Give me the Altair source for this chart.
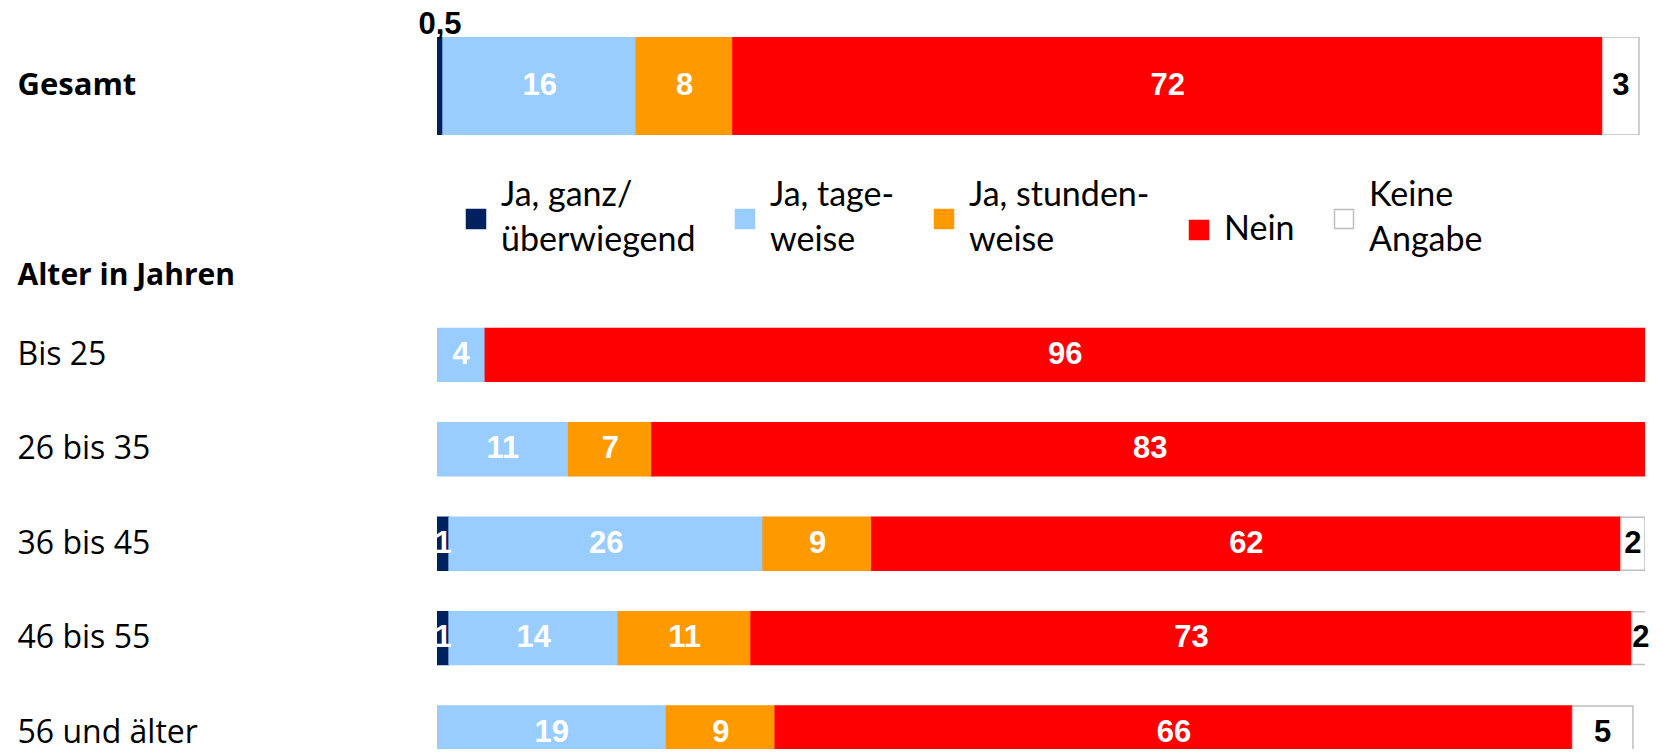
import altair as alt
import pandas as pd

# ---- data ----
groups = ["Gesamt", "Bis 25", "26 bis 35", "36 bis 45", "46 bis 55", "56 und älter"]
header = "Alter in Jahren"
categories = ["Ja, ganz/\nüberwiegend", "Ja, tage-\nweise", "Ja, stunden-\nweise", "Nein", "Keine\nAngabe"]

ja_ganz = [0.5, 0, 0, 1, 1, 0]
ja_tageweise = [16, 4, 10.9, 26, 14, 19]
ja_stundenweise = [8, 0, 6.9, 9, 11, 9]
nein = [72, 96, 82.5, 62, 72.9, 66]
keine_angabe = [3, 0, 0, 2, 1.5, 5]

fill_colors = ["#002060", "#99CCFF", "#FF9900", "#FF0000", "#FFFFFF"]
stroke_colors = ["#002060", "#99CCFF", "#FF9900", "#FF0000", "#BFBFBF"]

series = [ja_ganz, ja_tageweise, ja_stundenweise, nein, keine_angabe]
rows = []
for gi, g in enumerate(groups):
    for ci, (c, vals) in enumerate(zip(categories, series)):
        if vals[gi] > 0:
            rows.append({"gruppe": g, "antwort": c, "ord": ci, "wert": vals[gi]})
df = pd.DataFrame(rows)

legend = alt.Legend(
    title=None, orient="none", legendX=22, legendY=165, direction="horizontal",
    columns=5, symbolType="square", symbolSize=361, symbolStrokeWidth=1.5,
    labelFont="Lato", labelFontSize=34, labelColor="black", labelLimit=400,
    labelOffset=8, columnPadding=32, padding=0,
    labelExpr="split(datum.label, '\\n')",
    labelBaseline={"expr": "indexof(datum.label, '\\n') >= 0 ? 'line-bottom' : 'middle'"},
)
fill_enc = alt.Fill("antwort:N", scale=alt.Scale(domain=categories, range=fill_colors), legend=legend)
stroke_enc = alt.Stroke("antwort:N", scale=alt.Scale(domain=categories, range=stroke_colors), legend=legend)
x_scale = alt.Scale(domain=[0, 100], nice=False, zero=True)


def panel(data, y_enc, label_dy_small):
    base = alt.Chart(data).transform_stack(
        stack="wert", groupby=["gruppe"], as_=["x0", "x1"],
        sort=[alt.SortField("ord", order="ascending")],
    ).transform_calculate(
        mid="(datum.x0 + datum.x1) / 2",
        txt="datum.wert < 1 ? replace(format(datum.wert, '.1f'), '.', ',') : format(datum.wert, '.0f')",
    )
    bars = base.mark_bar(strokeWidth=1.5, clip=True).encode(
        x=alt.X("x0:Q", scale=x_scale, axis=None),
        x2="x1:Q",
        y=y_enc,
        fill=fill_enc,
        stroke=stroke_enc,
    )
    labels = base.transform_filter("datum.wert >= 1").mark_text(
        font="Liberation Sans", fontSize=31, fontWeight="bold", baseline="middle", align="center"
    ).encode(
        x=alt.X("mid:Q", scale=x_scale, axis=None),
        y=y_enc,
        text="txt:N",
        color=alt.condition("datum.ord == 4", alt.value("black"), alt.value("white")),
    )
    small = base.transform_filter("datum.wert < 1").mark_text(
        font="Liberation Sans", fontSize=31, fontWeight="bold", baseline="middle",
        align="center", dy=label_dy_small, color="black"
    ).encode(
        x=alt.X("mid:Q", scale=x_scale, axis=None),
        y=y_enc,
        text="txt:N",
    )
    return alt.layer(bars, labels, small)


top_df = df[df.gruppe == "Gesamt"]
age_df = df[df.gruppe != "Gesamt"]

y_top = alt.Y(
    "gruppe:N", title=None,
    scale=alt.Scale(domain=["Gesamt"], paddingInner=0, paddingOuter=0),
    axis=alt.Axis(labelAlign="left", labelPadding=420, ticks=False, domain=False, grid=False,
                  labelFont="Open Sans", labelFontSize=31, labelFontWeight="bold",
                  labelColor="black", labelLimit=400),
)
y_age = alt.Y(
    "gruppe:N", title=None,
    scale=alt.Scale(domain=[header] + groups[1:], paddingInner=0.439, paddingOuter=0.222,
                    range=[0, 567]),
    axis=alt.Axis(labelAlign="left", labelPadding=420, ticks=False, domain=False, grid=False,
                  labelFont="Open Sans", labelColor="black", labelLimit=400,
                  labelFontSize={"condition": {"test": f"datum.value == '{header}'", "value": 30}, "value": 32},
                  labelFontWeight={"condition": {"test": f"datum.value == '{header}'", "value": "bold"}, "value": "normal"},
                  labelOffset={"condition": {"test": f"datum.value == '{header}'", "value": 16}, "value": 0}),
)

top = panel(top_df, y_top, -61).properties(width=1208, height=98)
age = panel(age_df, y_age, 0).properties(width=1208, height=536)

chart = alt.vconcat(top, age, spacing=78).properties(
    padding={"left": 9, "top": 1, "right": 0, "bottom": 0},
    background="white",
).configure(style={"guide-label": {"lineHeight": 45}}).configure_view(stroke=None)

chart.save("out.html", embed_options={"renderer": "svg", "actions": False})
